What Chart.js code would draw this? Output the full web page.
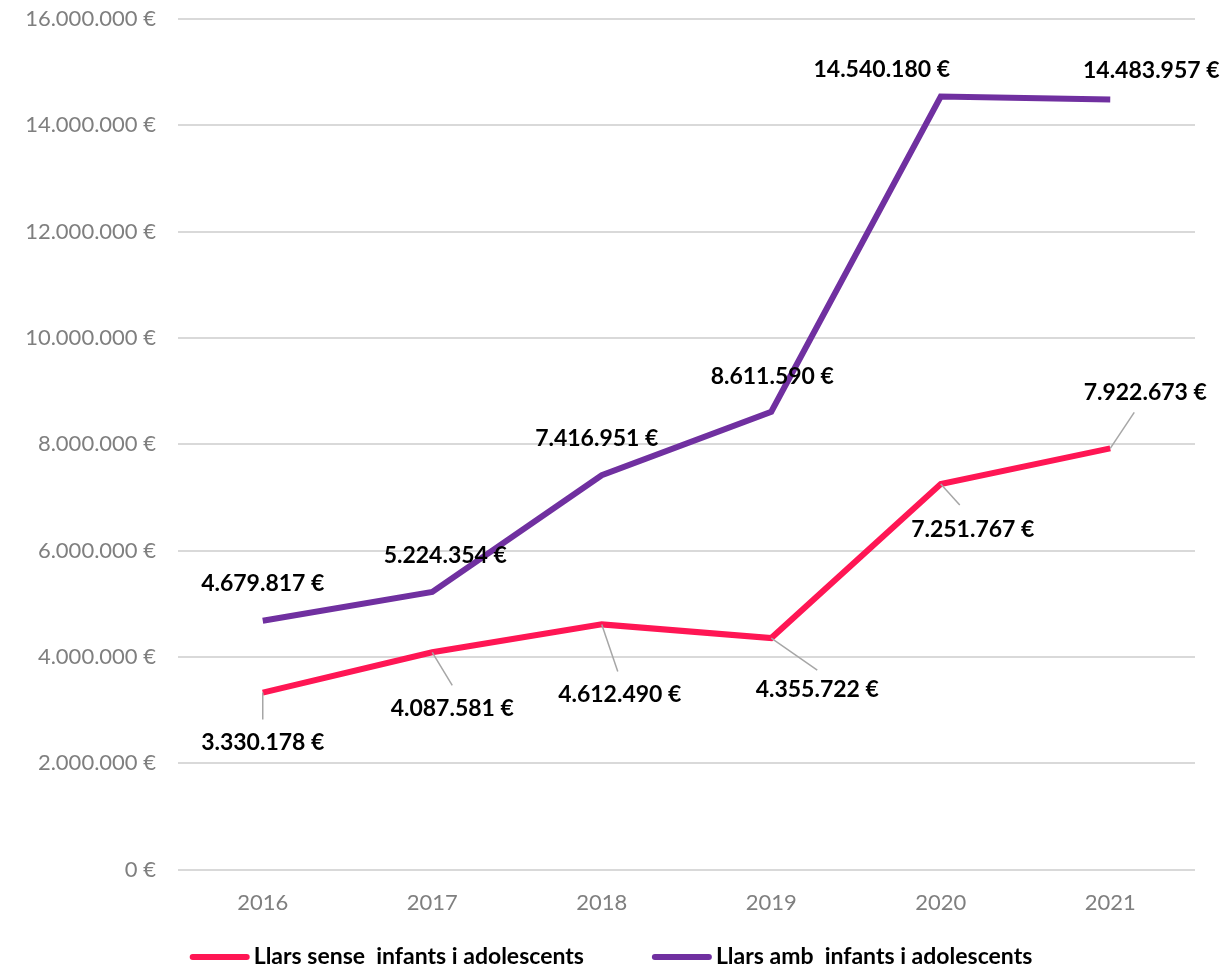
<!DOCTYPE html>
<html>
<head>
<meta charset="utf-8">
<script src="https://cdn.jsdelivr.net/npm/chart.js@4"></script>
<style>
  body { margin: 0; background: #fff; }
  #wrap { width: 1220px; height: 968px; }
</style>
</head>
<body>
<div id="wrap"><canvas id="myChart" width="1220" height="968"></canvas></div>
<script>
var years = ['2016', '2017', '2018', '2019', '2020', '2021'];
var senseInfants = [3330178, 4087581, 4612490, 4355722, 7251767, 7922673];
var ambInfants = [4679817, 5224354, 7416951, 8611590, 14540180, 14483957];
var senseLabel = 'Llars sense  infants i adolescents';
var ambLabel = 'Llars amb  infants i adolescents';

// where each value label sits relative to its point, and where its leader line ends
var senseLabelPos = [[0, 50], [20, 56], [18, 70], [46, 52], [32, 46], [35, -56]];
var senseLeaderEnd = [[0, 27], [20, 33], [16, 47], [46, 32], [19, 21], [24, -36]];
var ambLabelPos = [[0, -37], [13, -36], [-5, -37], [1, -35], [-59, -27], [41, -29]];

function euro(v) {
    return String(Math.round(v)).replace(/\B(?=(\d{3})+(?!\d))/g, '.') + ' €';
}

var valueLabels = {
    id: 'valueLabels',
    afterDatasetsDraw: function (chart) {
        var ctx = chart.ctx;
        ctx.save();
        ctx.font = 'bold 23px Lato';
        ctx.fillStyle = '#000';
        ctx.textAlign = 'center';
        ctx.textBaseline = 'middle';
        chart.data.datasets.forEach(function (ds, di) {
            var meta = chart.getDatasetMeta(di);
            var pos = di === 0 ? senseLabelPos : ambLabelPos;
            meta.data.forEach(function (pt, i) {
                if (di === 0) {
                    ctx.strokeStyle = '#a6a6a6';
                    ctx.lineWidth = 1.5;
                    ctx.beginPath();
                    ctx.moveTo(pt.x, pt.y);
                    ctx.lineTo(pt.x + senseLeaderEnd[i][0], pt.y + senseLeaderEnd[i][1]);
                    ctx.stroke();
                }
                ctx.fillText(euro(ds.data[i]), pt.x + pos[i][0], pt.y + pos[i][1]);
            });
        });
        ctx.restore();
    }
};

// legend drawn by hand: short line, tiny gap, bold text
var bottomLegend = {
    id: 'bottomLegend',
    afterDraw: function (chart) {
        var ctx = chart.ctx;
        ctx.save();
        ctx.font = 'bold 23px Lato';
        ctx.textBaseline = 'middle';
        ctx.textAlign = 'left';
        var lineW = 60, gap = 4, itemGap = 68;
        var items = chart.data.datasets.map(function (ds) {
            return { text: ds.label, color: ds.borderColor, w: lineW + gap + ctx.measureText(ds.label).width };
        });
        var total = items.reduce(function (s, it) { return s + it.w; }, 0) + itemGap * (items.length - 1);
        var x = chart.width / 2 - total / 2 + 1;
        var y = 957;
        items.forEach(function (it) {
            ctx.strokeStyle = it.color;
            ctx.lineWidth = 6;
            ctx.lineCap = 'round';
            ctx.beginPath();
            ctx.moveTo(x + 3, y);
            ctx.lineTo(x + lineW - 3, y);
            ctx.stroke();
            ctx.fillStyle = '#000';
            ctx.fillText(it.text, x + lineW + gap, y);
            x += it.w + itemGap;
        });
        ctx.restore();
    }
};

var ctx = document.getElementById('myChart').getContext('2d');
var chart = new Chart(ctx, {
    type: 'line',
    data: {
        labels: years,
        datasets: [{
            label: senseLabel,
            data: senseInfants,
            borderColor: '#ff1654',
            backgroundColor: '#ff1654',
            borderWidth: 6,
            pointRadius: 0,
            tension: 0
        },
        {
            label: ambLabel,
            data: ambInfants,
            borderColor: '#7030a0',
            backgroundColor: '#7030a0',
            borderWidth: 6,
            pointRadius: 0,
            tension: 0
        }]
    },
    options: {
        responsive: false,
        animation: false,
        layout: { padding: { top: 19, right: 25, left: 0, bottom: 32 } },
        scales: {
            x: {
                offset: true,
                grid: { display: false, drawTicks: false },
                border: { display: false },
                ticks: { color: '#7f7f7f', font: { family: 'Lato', size: 22 }, padding: 20 }
            },
            y: {
                min: 0,
                max: 16000000,
                afterFit: function (scale) {
                    scale.width = 178;
                    scale.paddingTop = 0;
                    scale.paddingBottom = 0;
                },
                grid: { color: '#d9d9d9', lineWidth: 2, drawTicks: false },
                border: { display: false },
                ticks: {
                    stepSize: 2000000,
                    color: '#7f7f7f',
                    font: { family: 'Lato', size: 22 },
                    padding: 22,
                    callback: function (v) { return euro(v); }
                }
            }
        },
        plugins: {
            legend: { display: false },
            tooltip: { enabled: false }
        }
    },
    plugins: [valueLabels, bottomLegend]
});
</script>
</body>
</html>
